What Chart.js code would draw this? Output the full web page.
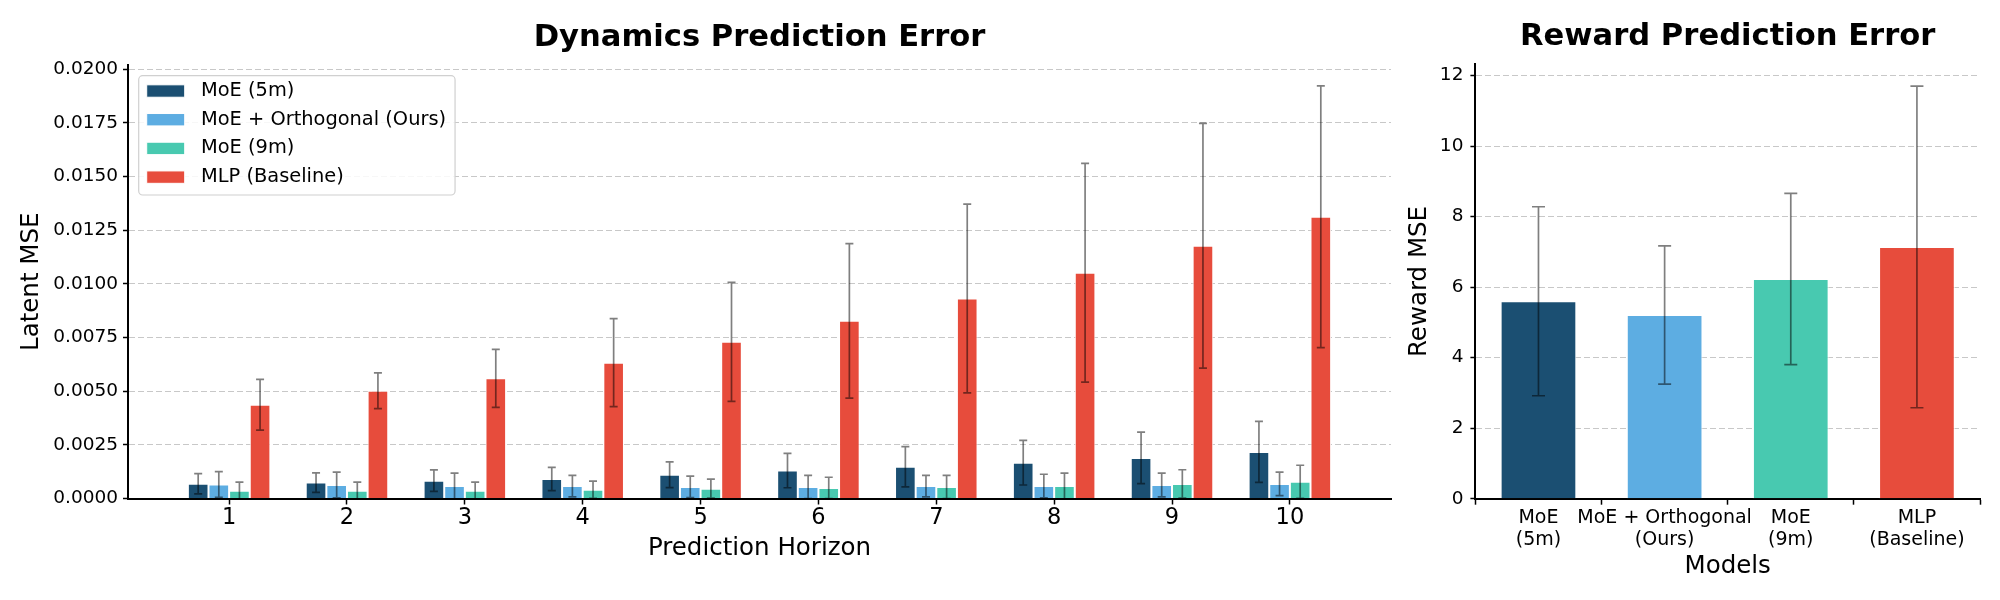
<!DOCTYPE html>
<html>
<head>
<meta charset="utf-8">
<script src="https://cdn.jsdelivr.net/npm/chart.js@4.4.1/dist/chart.umd.min.js"></script>
<style>
  html, body { margin: 0; padding: 0; background: #fff; }
  #wrap { position: relative; width: 2000px; height: 600px; }
  #dynChart { position: absolute; left: 0; top: 0; }
  #rewChart { position: absolute; left: 1400px; top: 0; }
</style>
</head>
<body>
<div id="wrap">
  <canvas id="dynChart" width="1400" height="600"></canvas>
  <canvas id="rewChart" width="600" height="600"></canvas>
</div>
<script>
// Dynamics prediction error (latent MSE) per prediction horizon
const horizons = [1, 2, 3, 4, 5, 6, 7, 8, 9, 10];
const moe5 = [0.00069, 0.00074, 0.00083, 0.00091, 0.00111, 0.00130, 0.00148, 0.00167, 0.00189, 0.00217];
const moe5Err = [0.00047, 0.00045, 0.00050, 0.00054, 0.00060, 0.00080, 0.00094, 0.00104, 0.00120, 0.00142];
const ortho = [0.00065, 0.00063, 0.00058, 0.00058, 0.00054, 0.00054, 0.00058, 0.00058, 0.00063, 0.00068];
const orthoErr = [0.00060, 0.00060, 0.00060, 0.00050, 0.00050, 0.00054, 0.00050, 0.00055, 0.00055, 0.00055];
const moe9 = [0.00036, 0.00036, 0.00036, 0.00041, 0.00046, 0.00049, 0.00054, 0.00058, 0.00068, 0.00078];
const moe9Err = [0.00040, 0.00040, 0.00040, 0.00040, 0.00044, 0.00050, 0.00054, 0.00060, 0.00066, 0.00077];
const mlp = [0.00437, 0.00502, 0.00560, 0.00633, 0.00730, 0.00828, 0.00932, 0.01052, 0.01178, 0.01313];
const mlpErr = [0.00118, 0.00083, 0.00135, 0.00205, 0.00277, 0.00360, 0.00440, 0.00510, 0.00570, 0.00610];

// Reward prediction error per model
const models = [["MoE", "(5m)"], ["MoE + Orthogonal", "(Ours)"], ["MoE", "(9m)"], ["MLP", "(Baseline)"]];
const rewardMse = [5.60, 5.21, 6.23, 7.14];
const rewardErr = [2.68, 1.96, 2.43, 4.56];

const seriesNames = ["MoE (5m)", "MoE + Orthogonal (Ours)", "MoE (9m)", "MLP (Baseline)"];
const colors = ["#1B4F72", "#5DADE2", "#48C9B0", "#E74C3C"];

Chart.defaults.font.family = "'DejaVu Sans', sans-serif";
Chart.defaults.color = "#000";

// draws mean +/- error whiskers on top of each bar
const errorBars = {
  id: "errorBars",
  afterDatasetsDraw(chart, args, opts) {
    const ctx = chart.ctx;
    const yScale = chart.scales.y;
    const area = chart.chartArea;
    ctx.save();
    ctx.beginPath();
    ctx.rect(area.left, area.top - 20, area.right - area.left, area.bottom - area.top + 20);
    ctx.clip();
    ctx.strokeStyle = "rgba(0, 0, 0, 0.5)";
    ctx.lineWidth = 1.7;
    chart.data.datasets.forEach((ds, i) => {
      if (!ds.errors) return;
      const meta = chart.getDatasetMeta(i);
      meta.data.forEach((bar, j) => {
        const d = ds.data[j];
        const v = typeof d === "object" ? d.y : d;
        const hi = yScale.getPixelForValue(v + ds.errors[j]);
        const lo = yScale.getPixelForValue(v - ds.errors[j]);
        ctx.beginPath();
        ctx.moveTo(bar.x, hi);
        ctx.lineTo(bar.x, lo);
        ctx.moveTo(bar.x - opts.cap, hi);
        ctx.lineTo(bar.x + opts.cap, hi);
        ctx.moveTo(bar.x - opts.cap, lo);
        ctx.lineTo(bar.x + opts.cap, lo);
        ctx.stroke();
      });
    });
    ctx.restore();
  }
};

// legend drawn matplotlib-style (framed box in the upper left of the plot),
// using the items that the legend plugin generates
const legendFrame = {
  id: "legendFrame",
  afterLayout(chart) {
    const legend = chart.legend;
    if (!legend || legend._framed) return;
    legend._framed = true;
    legend.draw = function () {
      const ctx = chart.ctx;
      const area = chart.chartArea;
      const items = legend.legendItems;
      const rowGap = 28.7;
      const x0 = area.left + 18.7;
      const y0 = area.top + 26;
      ctx.save();
      ctx.font = "19.4px 'DejaVu Sans', sans-serif";
      const textW = Math.max(...items.map((it) => ctx.measureText(it.text).width));
      ctx.beginPath();
      ctx.roundRect(area.left + 10.7, area.top + 10.7, (x0 + 54.3 + textW + 9) - (area.left + 10.7), 119.3, 4);
      ctx.fillStyle = "rgba(255, 255, 255, 0.85)";
      ctx.fill();
      ctx.strokeStyle = "#d0d0d0";
      ctx.lineWidth = 1.2;
      ctx.stroke();
      items.forEach((it, i) => {
        const cy = y0 + i * rowGap;
        ctx.fillStyle = it.fillStyle;
        ctx.fillRect(x0, cy - 6.2, 38, 12.4);
        ctx.strokeStyle = "#ffffff";
        ctx.lineWidth = 1;
        ctx.strokeRect(x0, cy - 6.2, 38, 12.4);
        ctx.fillStyle = "#000";
        ctx.textAlign = "left";
        ctx.textBaseline = "middle";
        ctx.fillText(it.text, x0 + 54.3, cy);
      });
      ctx.restore();
    };
  }
};

function makeSet(label, values, errors, color) {
  return {
    label: label,
    data: horizons.map((h, i) => ({ x: h, y: values[i] })),
    errors: errors,
    backgroundColor: color,
    borderColor: "#ffffff",
    borderWidth: 1
  };
}

new Chart(document.getElementById("dynChart"), {
  type: "bar",
  data: {
    datasets: [
      makeSet(seriesNames[0], moe5, moe5Err, colors[0]),
      makeSet(seriesNames[1], ortho, orthoErr, colors[1]),
      makeSet(seriesNames[2], moe9, moe9Err, colors[2]),
      makeSet(seriesNames[3], mlp, mlpErr, colors[3])
    ]
  },
  plugins: [errorBars, legendFrame],
  options: {
    responsive: false,
    animation: false,
    layout: { padding: { left: 0, right: 9, top: 0, bottom: 0 } },
    datasets: { bar: { categoryPercentage: 0.7, barPercentage: 1.0 } },
    plugins: {
      errorBars: { cap: 4 },
      tooltip: { enabled: false },
      title: {
        display: true,
        text: "Dynamics Prediction Error",
        font: { size: 30.6, weight: "bold" },
        color: "#000",
        fullSize: false,
        padding: { top: 20, bottom: 8.3 }
      },
      legend: {
        position: "chartArea",
        align: "start",
        labels: { boxWidth: 38, boxHeight: 12, padding: 9.7, font: { size: 19 }, color: "#000" }
      }
    },
    scales: {
      x: {
        type: "linear",
        offset: false,
        min: 0.142,
        max: 10.858,
        grid: { offset: false, drawOnChartArea: false, drawTicks: true, tickLength: 6, tickColor: "#000", tickWidth: 1.5 },
        border: { color: "#000", width: 2 },
        ticks: { stepSize: 1, includeBounds: false, autoSkip: false, font: { size: 22.5 }, color: "#000", padding: 0.5 },
        title: { display: true, text: "Prediction Horizon", font: { size: 24.5 }, color: "#000", padding: { top: 0, bottom: 36.5 } },
        afterFit: (s) => { s.height = 101.5; }
      },
      y: {
        min: 0,
        max: 0.0202,
        grid: { color: "#c8c8c8", lineWidth: 1, tickLength: 5, tickColor: "#000", tickWidth: 1.5 },
        border: { color: "#000", width: 2, dash: [6, 3] },
        ticks: {
          stepSize: 0.0025,
          includeBounds: false,
          font: { size: 18.5 },
          color: "#000",
          padding: 5,
          callback: (v) => v.toFixed(4)
        },
        title: { display: true, text: "Latent MSE", font: { size: 24.5 }, color: "#000", padding: { top: 17.3, bottom: 0 } },
        afterFit: (s) => { s.width = 128; }
      }
    }
  }
});

new Chart(document.getElementById("rewChart"), {
  type: "bar",
  data: {
    labels: models,
    datasets: [{
      label: "Reward MSE",
      data: rewardMse,
      errors: rewardErr,
      backgroundColor: colors,
      borderColor: "#ffffff",
      borderWidth: 1
    }]
  },
  plugins: [errorBars],
  options: {
    responsive: false,
    animation: false,
    layout: { padding: { left: 0, right: 20, top: 0, bottom: 0 } },
    datasets: { bar: { categoryPercentage: 1.0, barPercentage: 0.6 } },
    plugins: {
      errorBars: { cap: 6.5 },
      tooltip: { enabled: false },
      legend: { display: false },
      title: {
        display: true,
        text: "Reward Prediction Error",
        font: { size: 30.6, weight: "bold" },
        color: "#000",
        fullSize: false,
        padding: { top: 18.5, bottom: 9.1 }
      }
    },
    scales: {
      x: {
        grid: { drawOnChartArea: false, drawTicks: true, tickLength: 6, tickColor: "#000", tickWidth: 1.5 },
        border: { color: "#000", width: 2 },
        ticks: { font: { size: 19 }, color: "#000", padding: 1.5, maxRotation: 0, autoSkip: false },
        title: { display: true, text: "Models", font: { size: 24.5 }, color: "#000", padding: { top: 0, bottom: 18.5 } },
        afterFit: (s) => { s.height = 101.3; }
      },
      y: {
        min: 0,
        max: 12.32,
        grid: { color: "#c8c8c8", lineWidth: 1, tickLength: 5, tickColor: "#000", tickWidth: 1.5 },
        border: { color: "#000", width: 2, dash: [6, 3] },
        ticks: { stepSize: 2, includeBounds: false, font: { size: 18.5 }, color: "#000", padding: 7 },
        title: { display: true, text: "Reward MSE", font: { size: 24.5 }, color: "#000", padding: { top: 5.3, bottom: 0 } },
        afterFit: (s) => { s.width = 75.4; }
      }
    }
  }
});
</script>
</body>
</html>
